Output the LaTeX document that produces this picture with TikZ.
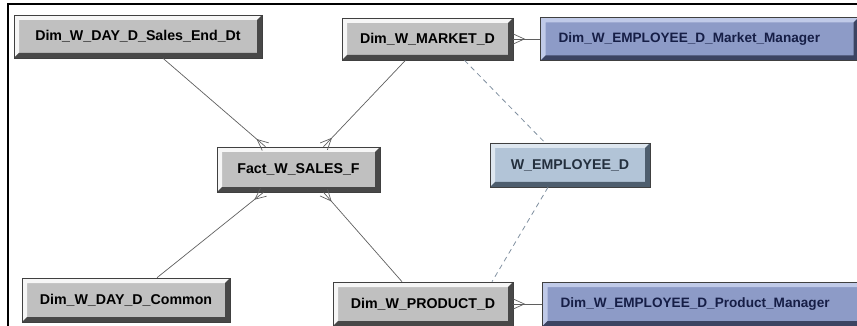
\documentclass[tikz,border=0pt]{standalone}
\usepackage{fontspec}
\setmainfont{Liberation Sans}
\usetikzlibrary{positioning}
\usetikzlibrary{decorations.markings}

\definecolor{dimfill}{RGB}{192,192,192}
\definecolor{dimlight}{RGB}{246,246,246}
\definecolor{dimdark}{RGB}{72,72,72}
\definecolor{mgrfill}{RGB}{141,155,199}
\definecolor{mgrlight}{RGB}{192,202,232}
\definecolor{mgrdark}{RGB}{60,68,98}
\definecolor{mgrtext}{RGB}{22,30,70}
\definecolor{empfill}{RGB}{178,196,215}
\definecolor{emplight}{RGB}{222,231,240}
\definecolor{empdark}{RGB}{78,94,110}
\definecolor{emptext}{RGB}{36,48,62}
\definecolor{linkgray}{RGB}{95,95,95}
\definecolor{dashgray}{RGB}{128,144,160}

\tikzset{
  bevel/.style 2 args={path picture={
      \fill[#1] (path picture bounding box.south west) |- (path picture bounding box.north east)
        -- ++(-5pt,-5pt) -| ([shift={(5pt,5pt)}]path picture bounding box.south west) -- cycle;
      \fill[#2] (path picture bounding box.south west) -| (path picture bounding box.north east)
        -- ++(-5pt,-5pt) |- ([shift={(5pt,5pt)}]path picture bounding box.south west) -- cycle;
    }},
  tablebox/.style={draw=black!75, line width=0.6pt, inner sep=0pt,
    font=\bfseries\fontsize{14.2}{16}\selectfont},
  dimbox/.style={tablebox, fill=dimfill, bevel={dimlight}{dimdark}},
  mgrbox/.style={tablebox, fill=mgrfill, text=mgrtext, bevel={mgrlight}{mgrdark},
    anchor=west, align=left, inner xsep=18pt, font=\bfseries\fontsize{13.6}{16}\selectfont},
  empbox/.style={tablebox, fill=empfill, text=emptext, bevel={emplight}{empdark}},
  link/.style={draw=linkgray, line width=0.7pt},
  dashlink/.style={draw=dashgray, line width=0.8pt, dash pattern=on 5pt off 4pt},
  crow end/.style={postaction={decorate}, decoration={markings,
      mark=at position 1 with {\draw[linkgray, line width=0.7pt] (0,5pt) -- (-11pt,0) -- (0,-5pt);}}},
  crow start/.style={postaction={decorate}, decoration={markings,
      mark=at position 0 with {\draw[linkgray, line width=0.7pt] (0,5pt) -- (11pt,0) -- (0,-5pt);}}}
}

\begin{document}
\begin{tikzpicture}[x=1pt, y=1pt]
  \useasboundingbox (0,0) rectangle (857,-326);
  \clip (0,0) rectangle (857,-326);

  % window frame
  \draw[line width=1.5pt] (8,-330) -- (8,-4) -- (860,-4);

  % tables
  \node[dimbox, minimum width=248pt, minimum height=43pt] (salesend) at (138,-36.5) {Dim\_W\_DAY\_D\_Sales\_End\_Dt};
  \node[dimbox, minimum width=171pt, minimum height=42pt] (market) at (427.5,-39) {Dim\_W\_MARKET\_D};
  \node[mgrbox, minimum height=43pt, text width=282pt, right=27pt of market] (mktmgr) {Dim\_W\_EMPLOYEE\_D\_Market\_Manager};
  \node[dimbox, minimum width=163pt, minimum height=45pt] (fact) at (298.5,-169.5) {Fact\_W\_SALES\_F};
  \node[empbox, minimum width=160pt, minimum height=44pt] (emp) at (570,-165) {W\_EMPLOYEE\_D};
  \node[dimbox, minimum width=208pt, minimum height=44pt] (common) at (126,-300) {Dim\_W\_DAY\_D\_Common};
  \node[dimbox, minimum width=180pt, minimum height=44pt] (product) at (423,-304) {Dim\_W\_PRODUCT\_D};
  \node[mgrbox, minimum height=44pt, text width=297pt, right=29pt of product] (prodmgr) {Dim\_W\_EMPLOYEE\_D\_Product\_Manager};

  % joins to the fact table
  \draw[link, crow end] ([xshift=25pt]salesend.south) -- ([xshift=-33pt]fact.north);
  \draw[link, crow end] ([xshift=-22pt]market.south) -- ([xshift=25pt]fact.north);
  \draw[link, crow end] ([xshift=31pt]common.north) -- ([xshift=-35pt]fact.south);
  \draw[link, crow end] ([xshift=-21pt]product.north) -- ([xshift=25pt]fact.south);

  % manager roles
  \draw[link, crow start] (market.east) -- (mktmgr.west);
  \draw[link, crow start] (product.east) -- (prodmgr.west);

  % alias links
  \draw[dashlink] ([xshift=37pt]market.south) -- ([xshift=-25pt]emp.north);
  \draw[dashlink] ([xshift=-22pt]emp.south) -- ([xshift=69pt]product.north);
\end{tikzpicture}
\end{document}
